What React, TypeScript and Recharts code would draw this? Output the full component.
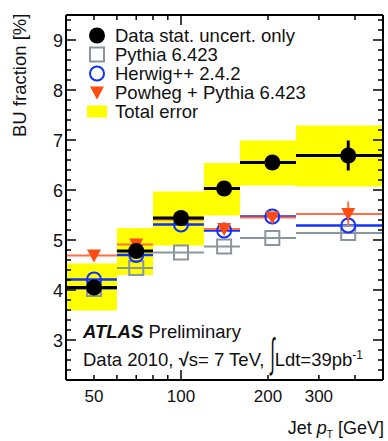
import React from 'react';
import { ComposedChart, XAxis, YAxis, Scatter, ErrorBar, ReferenceArea } from 'recharts';

const FONT = '"Liberation Sans", Arial, Helvetica, sans-serif';

// jet pT bins [GeV] and the point drawn inside each one
const BIN_LO = [40, 60, 80, 120, 160, 250];
const BIN_HI = [60, 80, 120, 160, 250, 500];
const BIN_X = [50, 70, 100, 141, 207, 379];

// BU fraction [%]
const DATA = [4.05, 4.78, 5.44, 6.03, 6.55, 6.69];
const DATA_STAT = [0.05, 0.06, 0.07, 0.09, 0.12, 0.3];
const TOTAL_LO = [3.59, 4.3, 4.89, 5.49, 6.09, 6.07];
const TOTAL_HI = [4.53, 5.24, 5.97, 6.54, 6.99, 7.29];
const PYTHIA = [4.02, 4.44, 4.75, 4.87, 5.04, 5.14];
const HERWIG = [4.21, 4.7, 5.31, 5.19, 5.47, 5.29];
const POWHEG = [4.69, 4.91, 5.41, 5.22, 5.45, 5.52];
const POWHEG_STAT = [0.03, 0.04, 0.05, 0.06, 0.08, 0.25];

const X_TICKS = [40, 50, 60, 70, 80, 90, 100, 200, 300, 400, 500];
const X_LABELS = [50, 100, 200, 300];
const Y_LABELS = [3, 4, 5, 6, 7, 8, 9];
const Y_TICKS = Array.from({ length: 37 }, (_, i) => Math.round((2.2 + i * 0.2) * 10) / 10);

const GRAY = '#8a969e';
const BLUE = '#1030ff';
const RED = '#ff4a12';
const RED_LINE = '#ff6e45';
const YELLOW = '#ffff00';

const rows = (vals: number[], errs?: number[]) =>
  BIN_X.map((x, i) => ({
    x,
    y: vals[i],
    xErr: [x - BIN_LO[i], BIN_HI[i] - x],
    yErr: errs ? errs[i] : 0,
  }));

const dataRows = rows(DATA, DATA_STAT);
const pythiaRows = rows(PYTHIA);
const herwigRows = rows(HERWIG);
const powhegRows = rows(POWHEG, POWHEG_STAT);

const DataDot = (p: any) => <circle cx={p.cx} cy={p.cy} r={8} fill="#000" />;
const PythiaBox = (p: any) => (
  <rect x={p.cx - 7} y={p.cy - 7} width={14} height={14} fill="none" stroke={GRAY} strokeWidth={2} />
);
const HerwigRing = (p: any) => <circle cx={p.cx} cy={p.cy} r={7} fill="none" stroke={BLUE} strokeWidth={2} />;
const PowhegTri = (p: any) => (
  <polygon points={`${p.cx - 7},${p.cy - 6} ${p.cx + 7},${p.cy - 6} ${p.cx},${p.cy + 7}`} fill={RED} />
);

const BottomTick = (props: any) => {
  const { x, y, payload } = props;
  const v = payload.value;
  const len = v === 100 ? 10 : 5;
  return (
    <g>
      <line x1={x} x2={x} y1={y} y2={y - len} stroke="#000" strokeWidth={1.5} />
      {X_LABELS.includes(v) && (
        <text x={x} y={y + 22} textAnchor="middle" fontSize={17} fontFamily={FONT} fill="#111">
          {v}
        </text>
      )}
    </g>
  );
};

const TopTick = (props: any) => {
  const { x, y, payload } = props;
  const len = payload.value === 100 ? 10 : 5;
  return <line x1={x} x2={x} y1={y} y2={y + len} stroke="#000" strokeWidth={1.5} />;
};

const LeftTick = (props: any) => {
  const { x, y, payload } = props;
  const v = payload.value;
  const major = Y_LABELS.includes(v);
  return (
    <g>
      <line x1={x} x2={x + (major ? 10 : 5)} y1={y} y2={y} stroke="#000" strokeWidth={1.5} />
      {major && (
        <text x={x - 3} y={y + 6.5} textAnchor="end" fontSize={18} fontFamily={FONT} fill="#111">
          {v}
        </text>
      )}
    </g>
  );
};

const RightTick = (props: any) => {
  const { x, y, payload } = props;
  const len = Y_LABELS.includes(payload.value) ? 10 : 5;
  return <line x1={x} x2={x - len} y1={y} y2={y} stroke="#000" strokeWidth={1.5} />;
};

const LEGEND = [
  { label: 'Data stat. uncert. only', icon: <circle cx={10} cy={9.5} r={8} fill="#000" /> },
  { label: 'Pythia 6.423', icon: <rect x={3} y={2.5} width={14} height={14} fill="none" stroke={GRAY} strokeWidth={2} /> },
  { label: 'Herwig++ 2.4.2', icon: <circle cx={10} cy={9.5} r={7} fill="none" stroke={BLUE} strokeWidth={2} /> },
  { label: 'Powheg + Pythia 6.423', icon: <polygon points="3,3.5 17,3.5 10,16.5" fill={RED} /> },
  { label: 'Total error', icon: <rect x={0} y={3.5} width={20} height={12} fill={YELLOW} /> },
];

const axisLine = { stroke: '#000', strokeWidth: 2 };

export default function App() {
  return (
    <div style={{ position: 'absolute', left: 0, top: 0, width: 388, height: 441, background: '#fff', fontFamily: FONT, color: '#111' }}>
      <ComposedChart width={388} height={441} margin={{ top: 14, right: 4, bottom: 0, left: 0 }}>
        <XAxis
          xAxisId="b"
          dataKey="x"
          type="number"
          scale="log"
          domain={[40, 500]}
          allowDataOverflow
          ticks={X_TICKS}
          interval={0}
          height={61}
          tickSize={0}
          tickMargin={0}
          tick={<BottomTick />}
          axisLine={axisLine}
        />
        <XAxis
          xAxisId="t"
          orientation="top"
          dataKey="x"
          type="number"
          scale="log"
          domain={[40, 500]}
          allowDataOverflow
          ticks={X_TICKS}
          interval={0}
          height={1}
          tickSize={0}
          tickMargin={0}
          tick={<TopTick />}
          axisLine={axisLine}
        />
        <YAxis
          yAxisId="l"
          dataKey="y"
          type="number"
          domain={[2.2, 9.5]}
          allowDataOverflow
          ticks={Y_TICKS}
          interval={0}
          width={66}
          tickSize={0}
          tickMargin={0}
          tick={<LeftTick />}
          axisLine={axisLine}
        />
        <YAxis
          yAxisId="r"
          orientation="right"
          dataKey="y"
          type="number"
          domain={[2.2, 9.5]}
          allowDataOverflow
          ticks={Y_TICKS}
          interval={0}
          width={1}
          tickSize={0}
          tickMargin={0}
          tick={<RightTick />}
          axisLine={axisLine}
        />
        {BIN_LO.map((lo, i) => (
          <ReferenceArea
            key={`tot-${i}`}
            xAxisId="b"
            yAxisId="l"
            x1={lo}
            x2={BIN_HI[i]}
            y1={TOTAL_LO[i]}
            y2={TOTAL_HI[i]}
            fill={YELLOW}
            fillOpacity={1}
            stroke="none"
          />
        ))}
        <Scatter data={pythiaRows} xAxisId="b" yAxisId="l" shape={PythiaBox} isAnimationActive={false}>
          <ErrorBar dataKey="xErr" direction="x" width={0} stroke={GRAY} strokeWidth={2} isAnimationActive={false} />
        </Scatter>
        <Scatter data={herwigRows} xAxisId="b" yAxisId="l" shape={HerwigRing} isAnimationActive={false}>
          <ErrorBar dataKey="xErr" direction="x" width={0} stroke={BLUE} strokeWidth={2.5} isAnimationActive={false} />
        </Scatter>
        <Scatter data={powhegRows} xAxisId="b" yAxisId="l" shape={PowhegTri} isAnimationActive={false}>
          <ErrorBar dataKey="xErr" direction="x" width={0} stroke={RED_LINE} strokeWidth={2} isAnimationActive={false} />
          <ErrorBar dataKey="yErr" direction="y" width={0} stroke={RED_LINE} strokeWidth={2} isAnimationActive={false} />
        </Scatter>
        <Scatter data={dataRows} xAxisId="b" yAxisId="l" shape={DataDot} isAnimationActive={false}>
          <ErrorBar dataKey="xErr" direction="x" width={0} stroke="#000" strokeWidth={3} isAnimationActive={false} />
          <ErrorBar dataKey="yErr" direction="y" width={0} stroke="#000" strokeWidth={3} isAnimationActive={false} />
        </Scatter>
      </ComposedChart>

      {/* legend */}
      <div style={{ position: 'absolute', left: 87, top: 26, fontSize: 18.5, lineHeight: '19px' }}>
        {LEGEND.map((item) => (
          <div key={item.label} style={{ display: 'flex', alignItems: 'center', height: 19, whiteSpace: 'nowrap' }}>
            <svg width={20} height={19} style={{ marginRight: 8, flex: 'none' }}>
              {item.icon}
            </svg>
            <span>{item.label}</span>
          </div>
        ))}
      </div>

      {/* y-axis title */}
      <div
        style={{
          position: 'absolute',
          left: 10,
          top: 136.7,
          fontSize: 18.5,
          lineHeight: '20px',
          whiteSpace: 'nowrap',
          transform: 'rotate(-90deg)',
          transformOrigin: '0 0',
        }}
      >
        BU fraction [%]
      </div>

      {/* x-axis title */}
      <div style={{ position: 'absolute', right: 4, top: 418, fontSize: 18, lineHeight: '20px', whiteSpace: 'nowrap' }}>
        Jet <i>p</i>
        <span style={{ fontSize: 10, position: 'relative', top: 4 }}>T</span> [GeV]
      </div>

      {/* ATLAS label */}
      <div style={{ position: 'absolute', left: 83, top: 321.6, fontSize: 18.5, lineHeight: '20px', whiteSpace: 'nowrap' }}>
        <b>
          <i>ATLAS</i>
        </b>{' '}
        Preliminary
      </div>
      <div style={{ position: 'absolute', left: 83, top: 345.3, fontSize: 18.5, lineHeight: '20px', whiteSpace: 'nowrap' }}>
        Data 2010, <b>√</b>s= 7 TeV,{' '}
        <span style={{ display: 'inline-block', transform: 'translateY(-6px) scale(0.9, 2.2)', transformOrigin: '50% 50%' }}>∫</span>
        Ldt=39pb<sup style={{ fontSize: 12, verticalAlign: '7px' }}>-1</sup>
      </div>
    </div>
  );
}
